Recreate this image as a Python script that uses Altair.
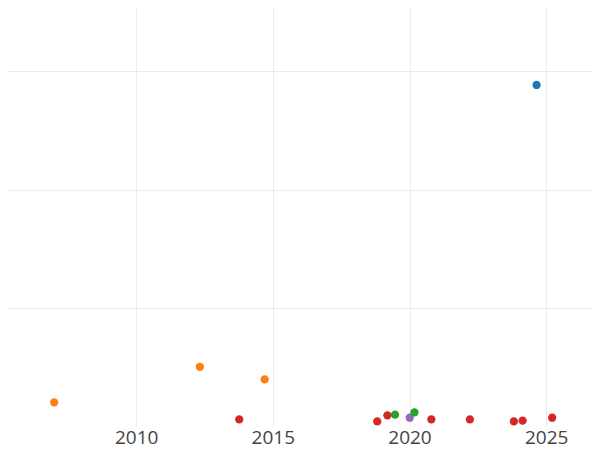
import altair as alt
import pandas as pd

years = [2024.65, 2007.0, 2012.33, 2014.70, 2013.77, 2018.82, 2019.19, 2019.47,
         2020.01, 2020.18, 2020.80, 2022.21, 2023.82, 2024.14, 2025.22]
values = [28.85, 2.0, 5.01, 3.94, 0.56, 0.39, 0.90, 0.96,
          0.70, 1.15, 0.56, 0.56, 0.39, 0.45, 0.70]
groups = ["A", "B", "B", "B", "D", "D", "D", "C",
          "E", "C", "D", "D", "D", "D", "D"]

group_names = ["A", "B", "C", "D", "E"]
group_colors = ["#1f77b4", "#ff7f0e", "#2ca02c", "#d62728", "#9467bd"]
x_ticks = [2010, 2015, 2020, 2025]
y_grid = [10, 20, 30]

df = pd.DataFrame({"year": years, "value": values, "group": groups})

chart = alt.Chart(df).mark_circle(size=68, opacity=1).encode(
    x=alt.X("year:Q",
            scale=alt.Scale(domain=[2005.017, 2026.97], nice=False, zero=False),
            axis=alt.Axis(values=x_ticks, format="d", title=None, domain=False,
                          ticks=False, labelFontSize=19, labelFont="Open Sans",
                          labelColor="#444444", labelPadding=2,
                          gridColor="#ebebeb", labelFlush=False)),
    y=alt.Y("value:Q",
            scale=alt.Scale(domain=[0, 36.04], nice=False),
            axis=alt.Axis(values=y_grid, labels=False, ticks=False, domain=False,
                          title=None, gridColor="#ebebeb")),
    color=alt.Color("group:N",
                    scale=alt.Scale(domain=group_names, range=group_colors),
                    legend=None),
).properties(
    width=600, height=426,
    autosize=alt.AutoSizeParams(type="none"),
    padding={"left": -8, "top": -8, "right": -8, "bottom": 32},
).configure_view(stroke=None)

chart.save("out.html", embed_options={"renderer": "svg", "actions": False})
